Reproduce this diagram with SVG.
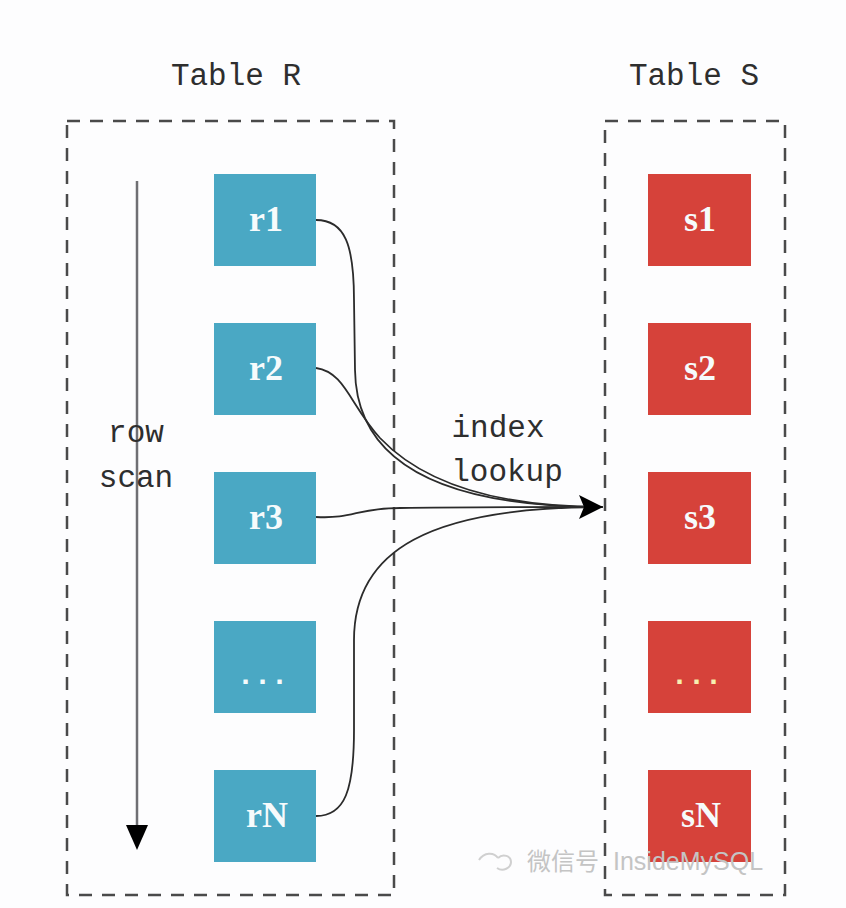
<svg xmlns="http://www.w3.org/2000/svg" width="846" height="908" viewBox="0 0 846 908">
<style>
.group{fill:none;stroke:#4a4a4a;stroke-width:2.5;stroke-dasharray:13 10}
.mono{font-family:"Liberation Mono",monospace;font-size:31px;fill:#2e2e2e;text-anchor:middle}
.b{fill:#4aa8c4}.a{fill:#d6423a}
.l{font-family:"Liberation Serif",serif;font-size:36px;font-weight:bold;fill:#f6fbfc;text-anchor:middle}
.d{font-family:"Liberation Mono",monospace;font-size:30px;font-weight:bold;fill:#f6fbfc;text-anchor:middle;letter-spacing:-1px}
.c{fill:none;stroke:#2b2b2b;stroke-width:1.8}
.wm{font-size:24px;fill:#c4c4c4;font-family:"Liberation Sans","Noto Sans CJK SC",sans-serif}
</style>
<defs>
<marker id="ah" markerUnits="userSpaceOnUse" markerWidth="26" markerHeight="26" refX="24" refY="12" orient="auto"><path d="M0 0L24 12L0 24L5 12Z" fill="#000"/></marker>
</defs>
<rect width="846" height="908" fill="#fdfdfe"/>
<g id="table-r"><rect class="group" x="67" y="121" width="327" height="774"/><text class="mono" x="236" y="85">Table R</text></g>
<g id="table-s"><rect class="group" x="605" y="121" width="180" height="774"/><text class="mono" x="694" y="85">Table S</text></g>
<g id="row-scan">
<line x1="137" y1="181" x2="137" y2="830" stroke="#6f6f73" stroke-width="2.5"/>
<path d="M126 825L148 825L137 850Z" fill="#000"/>
<text class="mono" x="136" y="442">row</text><text class="mono" x="136" y="487">scan</text>
</g>
<g id="r1"><rect class="b" x="214" y="174" width="102" height="92"/><text class="l" x="266" y="231">r1</text></g>
<g id="r2"><rect class="b" x="214" y="323" width="102" height="92"/><text class="l" x="266" y="380">r2</text></g>
<g id="r3"><rect class="b" x="214" y="472" width="102" height="92"/><text class="l" x="266" y="529">r3</text></g>
<g id="r4"><rect class="b" x="214" y="621" width="102" height="92"/><text class="d" x="262" y="684">...</text></g>
<g id="rN"><rect class="b" x="214" y="770" width="102" height="92"/><text class="l" x="267" y="827">rN</text></g>
<g id="s1"><rect class="a" x="648" y="174" width="103" height="92"/><text class="l" x="700" y="231">s1</text></g>
<g id="s2"><rect class="a" x="648" y="323" width="103" height="92"/><text class="l" x="700" y="380">s2</text></g>
<g id="s3"><rect class="a" x="648" y="472" width="103" height="92"/><text class="l" x="700" y="529">s3</text></g>
<g id="s4"><rect class="a" x="648" y="621" width="103" height="92"/><text class="d" x="696" y="684" style="fill:#f7efb0">...</text></g>
<g id="sN"><rect class="a" x="648" y="770" width="103" height="92"/><text class="l" x="701" y="827">sN</text></g>
<g id="connectors">
<path class="c" d="M316 220C345 220 354 245 354 300L355 370C356 450 420 507 603 507"/>
<path class="c" d="M316 368C345 372 350 405 380 438C420 480 490 507 603 507"/>
<path class="c" d="M316 517C355 519 355 508 400 508C460 507 530 507 603 507"/>
<path class="c" d="M316 816C345 816 354 790 354 730L354 640C354 550 430 507 603 507" marker-end="url(#ah)"/>
</g>
<g id="label"><text class="mono" x="498" y="437">index</text><text class="mono" x="507" y="481">lookup</text></g>
<g id="watermark"><text class="wm" x="527" y="870">微信号</text><text class="wm" x="613" y="870" style="font-size:25px">InsideMySQL</text>
<path d="M479 860C484 852 494 852 498 858M497 868C503 872 511 868 511 862C511 856 503 853 498 858" fill="none" stroke="#d0d0d0" stroke-width="2"/></g>
</svg>
